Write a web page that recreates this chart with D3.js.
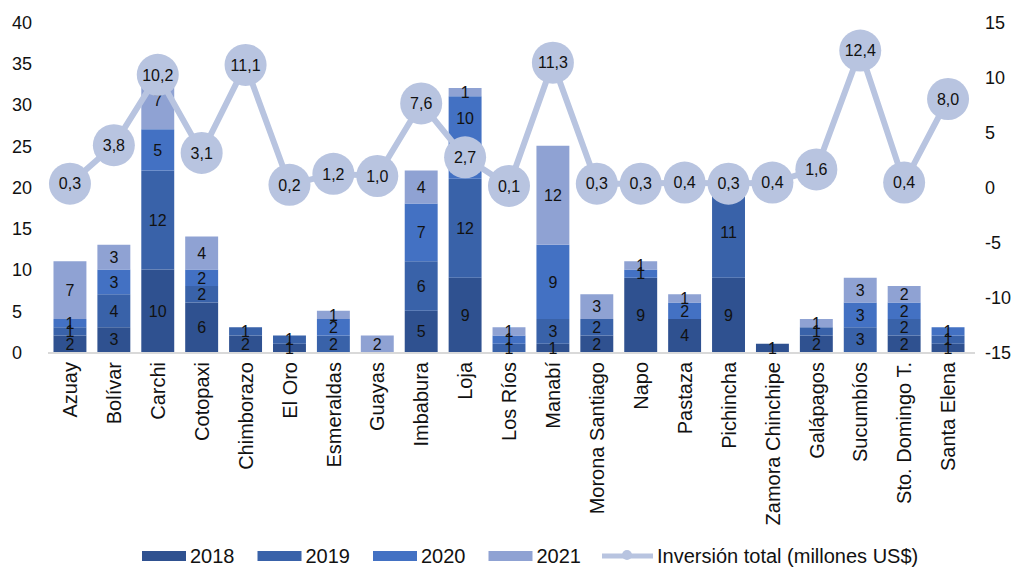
<!DOCTYPE html>
<html>
<head>
<meta charset="utf-8">
<script src="https://cdn.jsdelivr.net/npm/d3@7"></script>
<style>
  html, body { margin: 0; padding: 0; background: #ffffff; }
  svg { display: block; font-family: "Liberation Sans", Arial, sans-serif; }
</style>
</head>
<body>
<svg id="chart" width="1014" height="568"></svg>
<script>
// Provinces
const categories = ["Azuay", "Bolívar", "Carchi", "Cotopaxi", "Chimborazo", "El Oro", "Esmeraldas",
  "Guayas", "Imbabura", "Loja", "Los Ríos", "Manabí", "Morona Santiago", "Napo", "Pastaza",
  "Pichincha", "Zamora Chinchipe", "Galápagos", "Sucumbíos", "Sto. Domingo T.", "Santa Elena"];

// Yearly counts per province (stacked bars)
const years = ["2018", "2019", "2020", "2021"];
const v2018 = [2, 3, 10, 6, 2, 1, 0, 0, 5, 9, 0, 1, 2, 9, 4, 9, 1, 2, 0, 2, 1];
const v2019 = [1, 4, 12, 2, 1, 1, 2, 0, 6, 12, 1, 3, 2, 0, 0, 11, 0, 1, 3, 2, 1];
const v2020 = [1, 3, 5, 2, 0, 0, 2, 0, 7, 10, 1, 9, 0, 1, 2, 0, 0, 0, 3, 2, 1];
const v2021 = [7, 3, 7, 4, 0, 0, 1, 2, 4, 1, 1, 12, 3, 1, 1, 0, 0, 1, 3, 2, 0];

// Total investment, millions of US$ (right axis)
const inversion = [0.3, 3.8, 10.2, 3.1, 11.1, 0.2, 1.2, 1.0, 7.6, 2.7, 0.1, 11.3, 0.3, 0.3, 0.4,
  0.3, 0.4, 1.6, 12.4, 0.4, 8.0];

const leftTicks = [0, 5, 10, 15, 20, 25, 30, 35, 40];
const rightTicks = [-15, -10, -5, 0, 5, 10, 15];
const lineLabel = "Inversión total (millones US$)";

const colors = ["#2f5190", "#3962a9", "#4371c3", "#8fa2d3"];
const lineColor = "#b8c4e0";
const markerR = 21;

const svg = d3.select("#chart");
const yearValues = [v2018, v2019, v2020, v2021];

const rows = categories.map((c, i) => {
  const r = { cat: c };
  years.forEach((y, k) => { r[y] = yearValues[k][i]; });
  return r;
});

const x = d3.scaleBand().domain(categories).range([48, 970]).paddingInner(0.25).paddingOuter(0.125);
const yL = d3.scaleLinear().domain([0, 40]).range([352, 22]);
const yR = d3.scaleLinear().domain([-15, 15]).range([352, 22]);
const fmt = d => d3.format(".1f")(d).replace(".", ",");

// Left axis
const gL = svg.append("g").attr("transform", "translate(12,0)")
  .call(d3.axisLeft(yL).tickValues(leftTicks).tickSize(0).tickPadding(0).tickFormat(d => String(d)));
gL.select(".domain").remove();
gL.selectAll("text").attr("text-anchor", "start").attr("x", 0).attr("dy", "0.36em")
  .style("font-size", "18px").attr("fill", "#111");

// Right axis
const gR = svg.append("g").attr("transform", "translate(985,0)")
  .call(d3.axisRight(yR).tickValues(rightTicks).tickSize(0).tickPadding(0).tickFormat(d => String(d)));
gR.select(".domain").remove();
gR.selectAll("text").attr("x", 0).attr("dy", "0.36em")
  .style("font-size", "18px").attr("fill", "#111");

// Stacked bars
const stack = d3.stack().keys(years)(rows);
const layers = svg.append("g").selectAll("g").data(stack).join("g")
  .attr("fill", (d, i) => colors[i]);
layers.selectAll("rect").data(d => d.filter(s => s[1] - s[0] > 0)).join("rect")
  .attr("x", d => x(d.data.cat))
  .attr("width", x.bandwidth())
  .attr("y", d => yL(d[1]))
  .attr("height", d => yL(d[0]) - yL(d[1]));

// Baseline
svg.append("line").attr("x1", 48).attr("x2", 975).attr("y1", yL(0) + 1).attr("y2", yL(0) + 1)
  .attr("stroke", "#d9d9d9").attr("stroke-width", 2);

// Segment labels; a label that would sit under a line marker is lifted above it
const segLabels = svg.append("g").style("font-size", "16px").attr("fill", "#111").attr("text-anchor", "middle");
stack.forEach(layer => {
  layer.filter(s => s[1] - s[0] > 0).forEach(s => {
    const i = categories.indexOf(s.data.cat);
    let ly = yL((s[0] + s[1]) / 2);
    const my = yR(inversion[i]);
    if (Math.abs(ly - my) < markerR) ly = my - markerR - 18;
    segLabels.append("text")
      .attr("x", x(s.data.cat) + x.bandwidth() / 2)
      .attr("y", ly)
      .attr("dy", "0.36em")
      .text(s[1] - s[0]);
  });
});

// Category labels (rotated)
const gX = svg.append("g").attr("transform", `translate(0,${yL(0)})`)
  .call(d3.axisBottom(x).tickSize(0).tickPadding(0));
gX.select(".domain").remove();
gX.selectAll("text")
  .attr("transform", "rotate(-90)")
  .attr("text-anchor", "end")
  .attr("x", -10).attr("y", 0).attr("dy", "0.36em")
  .style("font-size", "20px").attr("fill", "#111");

// Investment line with labelled markers
const cx = c => x(c) + x.bandwidth() / 2;
const line = d3.line().x((d, i) => cx(categories[i])).y(d => yR(d));
svg.append("path").datum(inversion).attr("d", line)
  .attr("fill", "none").attr("stroke", lineColor).attr("stroke-width", 6);
const pts = svg.append("g").selectAll("g").data(inversion).join("g")
  .attr("transform", (d, i) => `translate(${cx(categories[i])},${yR(d)})`);
pts.append("circle").attr("r", markerR).attr("fill", lineColor);
pts.append("text").attr("text-anchor", "middle").attr("dy", "0.36em")
  .style("font-size", "16px").attr("fill", "#111").text(d => fmt(d));

// Legend
const legend = svg.append("g").attr("transform", "translate(142,556)");
let lx = 0;
years.forEach((yr, i) => {
  legend.append("rect").attr("x", lx).attr("y", -5).attr("width", 44).attr("height", 10).attr("fill", colors[i]);
  const t = legend.append("text").attr("x", lx + 48).attr("dy", "0.36em")
    .style("font-size", "20px").attr("fill", "#111").text(yr);
  lx += 48 + t.node().getComputedTextLength() + 23;
});
lx -= 2;
legend.append("line").attr("x1", lx).attr("x2", lx + 51).attr("y1", 0).attr("y2", 0)
  .attr("stroke", lineColor).attr("stroke-width", 5);
legend.append("circle").attr("cx", lx + 25).attr("cy", -1).attr("r", 5).attr("fill", lineColor);
legend.append("text").attr("x", lx + 55).attr("dy", "0.36em")
  .style("font-size", "20px").attr("fill", "#111").text(lineLabel);
</script>
</body>
</html>
